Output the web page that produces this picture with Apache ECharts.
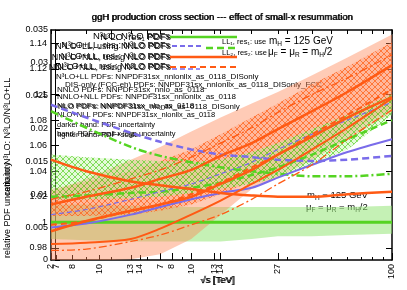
<!DOCTYPE html>
<html><head><meta charset="utf-8">
<script src="https://cdn.jsdelivr.net/npm/echarts@6/dist/echarts.min.js"></script>
<style>html,body{margin:0;padding:0;background:#fff}#c{width:407px;height:290px}</style>
</head><body><div id="c"></div>
<script>
// ---- data (sqrt(s) in TeV, values = cross-section ratio) ----
const sqrtS = [2, 3, 5, 7, 10, 14, 20, 27, 40, 60, 100];
const mainTicks = [2, 7, 8, 10, 13, 14, 27, 100];
const altTicks = [7, 8, 10, 13, 14];
const minorTicks = [3, 4, 5, 6, 9, 20, 30, 40, 50, 60, 70, 80, 90];
const yTicks = [0.98, 1, 1.02, 1.04, 1.06, 1.08, 1.1, 1.12, 1.14];

const salmonUp = [1.024, 1.034, 1.049, 1.059, 1.071, 1.082, 1.093, 1.102, 1.115, 1.129, 1.147];
const salmonLo = [0.970, 0.970, 0.971, 0.975, 0.987, 1.006, 1.026, 1.035, 1.049, 1.065, 1.086];
const hatchOUp = [1.026, 1.032, 1.040, 1.048, 1.057, 1.069, 1.082, 1.093, 1.108, 1.122, 1.141];
const hatchOLo = [1.005, 1.005, 1.006, 1.009, 1.014, 1.022, 1.032, 1.041, 1.055, 1.070, 1.090];
const hatchGUp = [1.053, 1.051, 1.049, 1.048, 1.047, 1.049, 1.055, 1.062, 1.073, 1.084, 1.100];
const hatchGLo = [1.018, 1.018, 1.019, 1.020, 1.023, 1.026, 1.030, 1.035, 1.045, 1.057, 1.084];
const greenUp  = [1.014, 1.014, 1.013, 1.013, 1.012, 1.012, 1.012, 1.012, 1.012, 1.012, 1.013];
const greenLo  = [0.987, 0.986, 0.985, 0.985, 0.985, 0.985, 0.987, 0.989, 0.989, 0.990, 0.991];

const greenSolid   = [1.0, 1.0, 1.0, 1.0, 1.0, 1.0, 1.0, 1.0, 1.0, 1.0, 1.0];
const greenDashDot = [1.087, 1.074, 1.059, 1.052, 1.047, 1.043, 1.040, 1.038, 1.036, 1.036, 1.038];
const greenDashed  = [1.020, 1.021, 1.023, 1.024, 1.027, 1.031, 1.037, 1.043, 1.053, 1.065, 1.080];
const blueDashedUp = [1.092, 1.082, 1.070, 1.063, 1.057, 1.053, 1.051, 1.049, 1.048, 1.049, 1.052];
const blueSolid    = [0.996, 0.999, 1.006, 1.012, 1.018, 1.023, 1.027, 1.035, 1.045, 1.055, 1.065];
const blueDashedLo = [1.006, 1.010, 1.018, 1.024, 1.030, 1.038, 1.047, 1.057, 1.069, 1.080, 1.094];
const orangeDesc   = [1.049, 1.040, 1.032, 1.029, 1.026, 1.023, 1.021, 1.020, 1.020, 1.022, 1.024];
const orangeR1     = [0.993, 1.001, 1.009, 1.014, 1.020, 1.030, 1.041, 1.053, 1.067, 1.082, 1.098];
const orangeR2     = [0.983, 0.984, 0.987, 0.995, 1.006, 1.017, 1.030, 1.041, 1.057, 1.074, 1.097];
const orangeC      = [1.014, 1.020, 1.027, 1.034, 1.041, 1.052, 1.062, 1.073, 1.087, 1.102, 1.123];
const orangeDDUp   = [1.018, 1.024, 1.034, 1.041, 1.051, 1.062, 1.074, 1.086, 1.100, 1.113, 1.131];
const orangeDDLo   = [0.978, 0.979, 0.985, 0.990, 0.998, 1.006, 1.018, 1.030, 1.045, 1.065, 1.088];
const orangeDashed = [0.998, 1.001, 1.009, 1.014, 1.022, 1.031, 1.043, 1.053, 1.069, 1.084, 1.104];

// ---- helpers ----
const L = Math.log10;
const FF = 'Liberation Sans, Arial, sans-serif';
const pts = ys => sqrtS.map((x, i) => [L(x), ys[i]]);
function hatch(color, bg) {
  const c = document.createElement('canvas'); c.width = 6; c.height = 6;
  const g = c.getContext('2d');
  if (bg) { g.fillStyle = bg; g.fillRect(0, 0, 6, 6); }
  g.strokeStyle = color; g.lineWidth = 0.8;
  g.beginPath(); g.moveTo(0, 0); g.lineTo(6, 6); g.moveTo(6, 0); g.lineTo(0, 6); g.stroke();
  return c;
}
function band(upper, lower, fill, z) {
  return {
    type: 'custom', z, silent: true, animation: false, data: [[L(10), 1]],
    renderItem(params, api) {
      const up = sqrtS.map((x, i) => api.coord([L(x), upper[i]]));
      const lo = sqrtS.map((x, i) => api.coord([L(x), lower[i]])).reverse();
      const cs = params.coordSys;
      return { type: 'polygon', shape: { points: up.concat(lo) }, style: { fill },
        clipPath: { type: 'rect', shape: { x: cs.x, y: cs.y, width: cs.width, height: cs.height } } };
    }
  };
}
function line(ys, color, width, type, z) {
  return { type: 'line', data: pts(ys), showSymbol: false, symbol: 'none', smooth: 0.3, silent: true,
    animation: false, lineStyle: { color, width, type }, z };
}
const txt = (text, x, y, size, align, extra) => ({ type: 'text', x, y, silent: true,
  style: Object.assign({ text, fontSize: size, fontFamily: FF, fill: '#000', align: align || 'left', verticalAlign: 'middle' }, extra || {}) });
const seg = (x1, y1, x2, y2, color, w, dash) => ({ type: 'line', silent: true, shape: { x1, y1, x2, y2 },
  style: { stroke: color, lineWidth: w, lineDash: dash || null } });
const fmtX = v => String(Math.round(Math.pow(10, v)));

const ORANGE = '#ff5a14', GREEN = '#55d422', BLUE = '#7a6cea';
const rich = { n: { fontSize: 10, fontFamily: FF }, s: { fontSize: 6.5, fontFamily: FF, padding: [6, 0, 0, 0] } };
const rich2 = { n: { fontSize: 9.5, fontFamily: FF }, s: { fontSize: 6.5, fontFamily: FF, padding: [6, 0, 0, 0] } };

const chart = echarts.init(document.getElementById('c'));
chart.setOption({
  animation: false,
  grid: { left: 51, right: 15, top: 30, bottom: 30 },
  xAxis: [
    { type: 'value', min: L(2), max: 2, position: 'bottom', splitLine: { show: false },
      axisLine: { show: true, onZero: false, lineStyle: { color: '#000', width: 1.5 } },
      axisTick: { inside: true, length: 7, customValues: mainTicks.map(L), lineStyle: { color: '#000' } },
      axisLabel: { customValues: mainTicks.map(L), formatter: fmtX, rotate: 90, fontSize: 9, color: '#000', margin: 4, fontFamily: FF } },
    { type: 'value', min: L(6.71), max: L(112.7), position: 'bottom', splitLine: { show: false },
      axisLine: { show: false }, axisTick: { inside: true, length: 5, customValues: altTicks.map(L), lineStyle: { color: '#000' } },
      axisLabel: { customValues: altTicks.map(L), formatter: fmtX, rotate: 90, fontSize: 9, color: '#000', margin: 4, fontFamily: FF } },
    { type: 'value', min: L(2), max: 2, position: 'bottom', splitLine: { show: false }, axisLine: { show: false },
      axisTick: { inside: true, length: 3, customValues: minorTicks.map(L), lineStyle: { color: '#000' } }, axisLabel: { show: false } },
    { type: 'value', min: L(2), max: 2, position: 'top', splitLine: { show: false },
      axisLine: { show: true, onZero: false, lineStyle: { color: '#000', width: 1.5 } },
      axisTick: { inside: true, length: 4, customValues: mainTicks.concat(minorTicks).map(L), lineStyle: { color: '#000' } }, axisLabel: { show: false } }
  ],
  yAxis: [
    { type: 'value', min: 0.9705, max: 1.1505, position: 'left', splitLine: { show: false },
      axisLine: { show: true, onZero: false, lineStyle: { color: '#000', width: 1.5 } },
      axisTick: { inside: true, length: 8, customValues: yTicks, lineStyle: { color: '#000' } },
      axisLabel: { customValues: yTicks, formatter: v => String(+v.toFixed(2)), fontSize: 9, color: '#000', margin: 4, fontFamily: FF } },
    { type: 'value', min: 0, max: 0.035, interval: 0.005, position: 'left', offset: -4, splitLine: { show: false },
      axisLine: { show: true, onZero: false, lineStyle: { color: '#000', width: 1 } },
      axisTick: { inside: true, length: 5, lineStyle: { color: '#000' } },
      axisLabel: { formatter: v => String(+v.toFixed(3)), fontSize: 9, color: '#000', margin: 7, fontFamily: FF } },
    { type: 'value', min: 0.9705, max: 1.1505, position: 'right', splitLine: { show: false },
      axisLine: { show: true, onZero: false, lineStyle: { color: '#000', width: 1.5 } },
      axisTick: { inside: true, length: 6, customValues: yTicks, lineStyle: { color: '#000' } }, axisLabel: { show: false } }
  ],
  series: [
    band(greenUp, greenLo, 'rgba(150,230,120,0.55)', 1),
    band(salmonUp, salmonLo, 'rgba(255,130,80,0.42)', 2),
    band(hatchOUp, hatchOLo, { image: hatch('rgba(255,95,20,0.9)', 'rgba(255,150,110,0.35)'), repeat: 'repeat' }, 3),
    band(hatchGUp, hatchGLo, { image: hatch('rgba(90,210,40,0.9)', 'rgba(180,240,150,0.35)'), repeat: 'repeat' }, 4),
    line(greenSolid, GREEN, 3, 'solid', 10),
    line(greenDashDot, GREEN, 2.5, [8, 3, 2, 3], 10),
    line(greenDashed, GREEN, 2.5, [7, 4], 10),
    line(blueDashedUp, BLUE, 2.5, [7, 4], 10),
    line(blueSolid, BLUE, 2, 'solid', 10),
    line(blueDashedLo, BLUE, 1.2, [5, 3], 10),
    line(orangeDesc, ORANGE, 2.5, 'solid', 11),
    line(orangeR1, ORANGE, 2.5, 'solid', 11),
    line(orangeR2, ORANGE, 2, 'solid', 11),
    line(orangeC, ORANGE, 2.5, 'solid', 11),
    line(orangeDDUp, ORANGE, 1.3, [8, 3, 2, 3], 11),
    line(orangeDDLo, ORANGE, 1.3, [8, 3, 2, 3], 11),
    line(orangeDashed, ORANGE, 2, [6, 4], 11)
  ],
  graphic: [
    txt('ggH production cross section --- effect of small-x resummation', 222, 17, 9.5, 'center'),
    txt('ggH production cross section --- effect of small-x resummation', 222.7, 17.3, 9.5, 'center'),
    txt('√s [TeV]', 200, 280, 9.5, 'left'),
    txt('√s [TeV]', 201, 280.5, 9.5, 'left'),
    // legend block
    txt('N³LO, N³LO PDFs', 170, 36, 9.5, 'right'),
    txt('N³LO, res₁ PDFs', 171, 37, 9.5, 'right'),
    txt('N³LO+LL, res₁: N³LO PDFs', 170, 46, 9, 'right'),
    txt('N³LO+LL, using NNLO PDFs', 171, 47, 9, 'right'),
    txt('N³LO+LL, res₂: N³LO PDFs', 170, 57, 9, 'right'),
    txt('NNLO+NLL, using NLO PDFs', 171, 58, 9, 'right'),
    txt('N³LO+LL, res₂: NNLO PDFs', 170, 67, 9, 'right'),
    txt('NNLO+NLL, using N³LO PDFs', 171, 68, 9, 'right'),
    txt('N³LO+LL PDFs: NNPDF31sx_nnlonllx_as_0118_DISonly', 56, 77, 8),
    txt('DIS-only (FCC-eh) PDFs: NNPDF31sx_nnlonllx_as_0118_DISonly_FCC', 65, 85, 8),
    txt('NNLO PDFs: NNPDF31sx_nnlo_as_0118', 57, 90, 8),
    txt('NNLO+NLL PDFs: NNPDF31sx_nnlonllx_as_0118', 57, 97, 8),
    txt('NLO PDFs: NNPDF31sx_nlo_as_0118', 57, 106, 8),
    txt('NLO PDFs: NNPDF31sx_nlonllx_as_0118_DISonly', 58, 106.5, 8),
    txt('NLO+NLL PDFs: NNPDF31sx_nlonllx_as_0118', 57, 115, 7.5),
    txt('darker band: PDF uncertainty', 57, 125, 7.5),
    txt('band: PDF+small-x logs uncertainty', 57, 134, 7.5),
    txt('lighter band: PDF+scale', 58, 134.5, 7.5),
    seg(170, 37, 237, 37, GREEN, 2.5),
    seg(172, 46, 204, 46, BLUE, 2, [5, 3]),
    seg(206, 48, 237, 48, GREEN, 2.5, [7, 4]),
    seg(170, 57, 237, 57, ORANGE, 2.5),
    seg(170, 67, 237, 67, ORANGE, 2, [6, 4]),
    seg(172, 69, 200, 69, BLUE, 1.5, [5, 3]),
    txt('LL₁, res₁: use', 222, 42, 7.5),
    txt('LL₂, res₂: use', 222, 53, 7.5),
    { type: 'text', x: 269, y: 41, silent: true, style: { text: '{n|m}{s|H}{n| = 125 GeV}', rich, fill: '#000', verticalAlign: 'middle' } },
    { type: 'text', x: 268, y: 52, silent: true, style: { text: '{n|μ}{s|F}{n| = μ}{s|R}{n| = m}{s|H}{n|/2}', rich, fill: '#000', verticalAlign: 'middle' } },
    { type: 'text', x: 307, y: 195, silent: true, style: { text: '{n|m}{s|H}{n| = 125 GeV}', rich: rich2, fill: '#000', verticalAlign: 'middle' } },
    { type: 'text', x: 306, y: 207, silent: true, style: { text: '{n|μ}{s|F}{n| = μ}{s|R}{n| = m}{s|H}{n|/2}', rich: rich2, fill: '#000', verticalAlign: 'middle' } },
    { type: 'text', x: 8, y: 258, rotation: Math.PI / 2, silent: true, style: { text: 'relative PDF uncertainty', fontSize: 9, fontFamily: FF, fill: '#000', verticalAlign: 'middle' } },
    { type: 'text', x: 8, y: 195, rotation: Math.PI / 2, silent: true, style: { text: 'ratio to N³LO: N³LO/N³LO+LL', fontSize: 9, fontFamily: FF, fill: '#000', verticalAlign: 'middle' } }
  ]
});
</script>
</body></html>
